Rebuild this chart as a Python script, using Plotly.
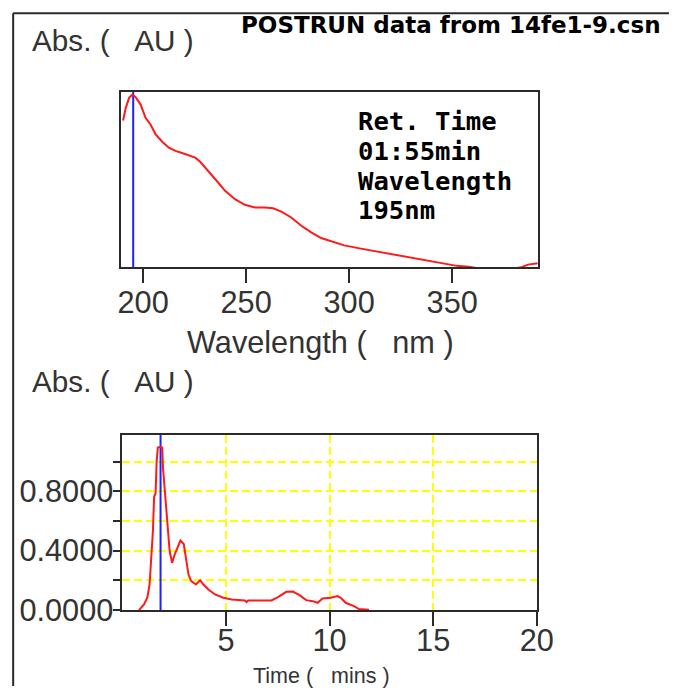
import plotly.graph_objects as go

# ---- data ----
spec_wavelength = [190.3, 191.6, 193.2, 194.8, 196.4, 198.8, 201.2, 203.6, 206.1, 209.3,
                   212.5, 215.7, 218.9, 222.1, 225.3, 227.7, 231.8, 235.8, 239.8, 244.6,
                   249.4, 254.3, 259.1, 263.1, 267.1, 271.9, 276.8, 281.6, 286.4, 291.2,
                   297.6, 305.7, 313.7, 321.8, 329.8, 337.8, 345.9, 352.3, 358.0, 365.0,
                   372.0, 378.0, 383.6, 386.8, 391.6]
spec_abs = [0.937, 1.018, 1.082, 1.103, 1.086, 1.039, 0.954, 0.912, 0.849, 0.802,
            0.764, 0.743, 0.730, 0.717, 0.700, 0.674, 0.615, 0.551, 0.488, 0.435,
            0.399, 0.382, 0.382, 0.377, 0.356, 0.318, 0.265, 0.223, 0.187, 0.166,
            0.140, 0.119, 0.100, 0.081, 0.064, 0.047, 0.026, 0.009, 0.004, -0.012,
            -0.018, -0.012, 0.000, 0.017, 0.026]

chrom_time = [0.80, 1.04, 1.20, 1.31, 1.41, 1.47, 1.53, 1.60, 1.65, 1.71,
              1.84, 1.92, 1.96, 2.08, 2.19, 2.28, 2.40, 2.52, 2.68, 2.80,
              2.96, 3.07, 3.19, 3.32, 3.55, 3.75, 3.91, 4.15, 4.47, 4.87,
              5.27, 5.91, 5.99, 6.07, 7.19, 7.51, 7.91, 8.23, 8.55, 8.87,
              9.19, 9.42, 9.66, 10.06, 10.38, 10.54, 10.78, 11.18, 11.42, 11.90]
chrom_abs = [0.000, 0.038, 0.083, 0.172, 0.396, 0.530, 0.765, 0.787, 0.998, 1.094,
             1.100, 1.094, 0.955, 0.709, 0.553, 0.396, 0.318, 0.374, 0.430, 0.468,
             0.445, 0.351, 0.239, 0.195, 0.172, 0.201, 0.172, 0.139, 0.105, 0.083,
             0.072, 0.065, 0.054, 0.065, 0.065, 0.087, 0.123, 0.125, 0.101, 0.067,
             0.060, 0.049, 0.078, 0.083, 0.094, 0.083, 0.049, 0.027, 0.007, 0.002]

selected_wavelength = 195.2
selected_time = 1.84

spec_ticks = [200, 250, 300, 350]
time_ticks = [5, 10, 15, 20]
abs_ticks = [0.0, 0.2, 0.4, 0.6, 0.8, 1.0]
abs_ticktext = ["0.0000", "", "0.4000", "", "0.8000", ""]

title_text = "POSTRUN data from 14fe1-9.csn"
info_lines = ["Ret. Time", "01:55min", "Wavelength", "195nm"]
nb = "\u00a0"
abs_label = "Abs." + nb + "(" + nb * 3 + "AU" + nb + ")"
wl_label = "Wavelength" + nb + "(" + nb * 3 + "nm" + nb + ")"
time_label = "Time" + nb + "(" + nb * 3 + "mins" + nb + ")"

# ---- figure ----
W, H = 678, 696
# layout helpers: the photographed area is slightly larger than the figure
# (page margin of 8px), so target positions are converted to figure pixels.
OFF = 8
SX = (W + 2 * OFF) / W
SY = (H + 2 * OFF) / H
S = (SX + SY) / 2

RED = "#ff1a1a"
BLUE = "#1f1fff"
INK = "#2a2a2a"
TXT = "#333333"
SANS = "Liberation Sans, Arial, sans-serif"

def px(x):
    return (x * SX - OFF) / W

def py(y):
    return 1 - (y * SY - OFF) / H

def fs(v):
    return round(v * S, 1)

fig = go.Figure()

spec_yrange = [0, 1.12]
chrom_yrange = [0, 1.181]

fig.add_trace(go.Scatter(x=[selected_wavelength, selected_wavelength], y=spec_yrange,
                         mode="lines", line=dict(color=BLUE, width=2),
                         xaxis="x", yaxis="y", hoverinfo="skip"))
fig.add_trace(go.Scatter(x=spec_wavelength, y=spec_abs, mode="lines",
                         line=dict(color=RED, width=2), xaxis="x", yaxis="y"))
fig.add_trace(go.Scatter(x=[selected_time, selected_time], y=chrom_yrange,
                         mode="lines", line=dict(color=BLUE, width=2),
                         xaxis="x2", yaxis="y2", hoverinfo="skip"))
fig.add_trace(go.Scatter(x=chrom_time, y=chrom_abs, mode="lines",
                         line=dict(color=RED, width=2), xaxis="x2", yaxis="y2"))

tickfont = dict(family=SANS, size=fs(30), color=TXT)

fig.update_layout(
    width=W, height=H,
    margin=dict(l=0, r=0, t=0, b=0),
    paper_bgcolor="white", plot_bgcolor="white",
    showlegend=False,
    xaxis=dict(domain=[px(119), px(538)], range=[189.5, 391.5], anchor="y",
               tickvals=spec_ticks, ticks="outside", ticklen=14, tickwidth=2,
               tickcolor=INK, tickfont=tickfont, ticklabelstandoff=-7,
               showgrid=False, zeroline=False,
               showline=True, mirror=True, linecolor=INK, linewidth=2),
    yaxis=dict(domain=[py(268), py(92)], range=spec_yrange, anchor="x",
               showticklabels=False, ticks="", showgrid=False, zeroline=False,
               showline=True, mirror=True, linecolor=INK, linewidth=2),
    xaxis2=dict(domain=[px(120), px(537)], range=[0, 20], anchor="y2",
                tickvals=time_ticks, ticks="outside", ticklen=14, tickwidth=2,
                tickcolor=INK, tickfont=tickfont, ticklabelstandoff=-12,
                showgrid=True, gridcolor="#ffff00", gridwidth=2, griddash="8px,4px",
                zeroline=False, showline=True, mirror=True, linecolor=INK, linewidth=2),
    yaxis2=dict(domain=[py(612), py(436)], range=chrom_yrange, anchor="x2",
                tickvals=abs_ticks, ticktext=abs_ticktext, ticks="outside",
                ticklen=7, tickwidth=2, tickcolor=INK, tickfont=tickfont,
                ticklabelstandoff=-6,
                showgrid=True, gridcolor="#ffff00", gridwidth=2, griddash="8px,4px",
                zeroline=False, showline=True, mirror=True, linecolor=INK, linewidth=2),
)

# outer frame
fig.add_shape(type="line", xref="paper", yref="paper", x0=px(10), x1=1,
              y0=py(13), y1=py(13), line=dict(color=INK, width=2))
fig.add_shape(type="line", xref="paper", yref="paper", x0=px(10), x1=px(10),
              y0=0, y1=py(13), line=dict(color=INK, width=2))

ann = []
ann.append(dict(text="<b>" + title_text + "</b>", x=px(451), y=py(25),
                xanchor="center", yanchor="middle",
                font=dict(family="DejaVu Sans", size=fs(22.5), color="#000")))
ann.append(dict(text=abs_label, x=px(27), y=py(40), xanchor="left", yanchor="middle",
                font=dict(family=SANS, size=fs(29), color=TXT)))
ann.append(dict(text=abs_label, x=px(27), y=py(383), xanchor="left", yanchor="middle",
                font=dict(family=SANS, size=fs(29), color=TXT)))
ann.append(dict(text=wl_label, x=px(319), y=py(343), xanchor="center", yanchor="middle",
                font=dict(family=SANS, size=fs(30), color=TXT)))
ann.append(dict(text=time_label, x=px(320), y=py(692), xanchor="center", yanchor="bottom",
                font=dict(family=SANS, size=fs(21), color=TXT)))
info_y = [121, 151, 181, 211]
for line, yy in zip(info_lines, info_y):
    ann.append(dict(text="<b>" + line + "</b>", x=px(355), y=py(yy),
                    xanchor="left", yanchor="middle", align="left",
                    font=dict(family="DejaVu Sans Mono", size=fs(25), color="#000")))
for a in ann:
    a.update(xref="paper", yref="paper", showarrow=False)
fig.update_layout(annotations=ann)

fig.write_html("out.html", config={"displayModeBar": False})
